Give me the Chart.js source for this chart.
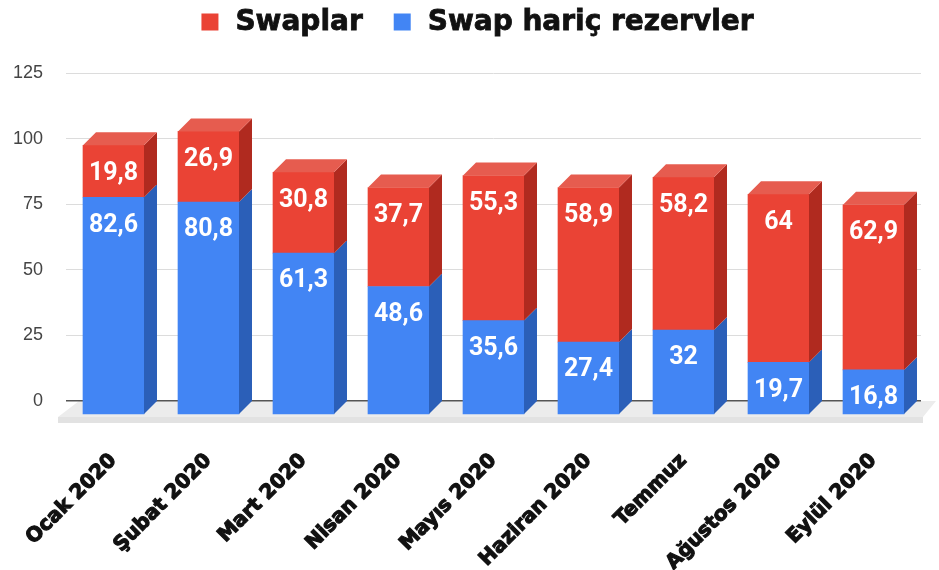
<!DOCTYPE html>
<html>
<head>
<meta charset="utf-8">
<script src="https://cdn.jsdelivr.net/npm/chart.js@4.4.1/dist/chart.umd.min.js"></script>
<style>
  html, body { margin: 0; background: #fff; }
  #wrap { width: 939px; height: 570px; }
</style>
</head>
<body>
<div id="wrap"><canvas id="chart" width="939" height="570"></canvas></div>
<script>
const months = ['Ocak 2020', 'Şubat 2020', 'Mart 2020', 'Nisan 2020', 'Mayıs 2020', 'Haziran 2020', 'Temmuz', 'Ağustos 2020', 'Eylül 2020'];
const swapHaric = [82.6, 80.8, 61.3, 48.6, 35.6, 27.4, 32, 19.7, 16.8];
const swaplar = [19.8, 26.9, 30.8, 37.7, 55.3, 58.9, 58.2, 64, 62.9];
const yTicks = [0, 25, 50, 75, 100, 125];

// 3D depth of the bars (px)
const DX = 13, DY = 13;
const PLOT_H = 328; // chart area height, 401 - 73
const shiftUnits = DY / (PLOT_H / 125);

const sideColors = ['#2b5fb8', '#b02a1f'];
const topColors = ['#5f95f0', '#e65c4f'];

const fmt = v => String(v).replace('.', ',');

// floor under the bars
const floorPlugin = {
  id: 'floor',
  beforeDraw(chart) {
    const { ctx, chartArea: a, scales: { y } } = chart;
    const z = y.getPixelForValue(0);
    ctx.save();
    ctx.fillStyle = '#ececec';
    ctx.beginPath();
    ctx.moveTo(a.left + DX, z);
    ctx.lineTo(a.right + DX + 2, z);
    ctx.lineTo(a.right + 2, z + DY + 3);
    ctx.lineTo(a.left - 8, z + DY + 3);
    ctx.closePath();
    ctx.fill();
    ctx.fillStyle = '#e2e2e2';
    ctx.fillRect(a.left - 8, z + DY + 3, a.right - a.left + 10, 6);
    ctx.restore();
  }
};

// side + top faces and value labels
const depthPlugin = {
  id: 'depth',
  afterDatasetsDraw(chart) {
    const { ctx } = chart;
    const last = chart.data.datasets.length - 1;
    ctx.save();
    chart.data.datasets.forEach((ds, di) => {
      const meta = chart.getDatasetMeta(di);
      meta.data.forEach(bar => {
        const x1 = bar.x - bar.width / 2, x2 = bar.x + bar.width / 2;
        ctx.fillStyle = sideColors[di];
        ctx.beginPath();
        ctx.moveTo(x2, bar.y);
        ctx.lineTo(x2 + DX, bar.y - DY);
        ctx.lineTo(x2 + DX, bar.base - DY);
        ctx.lineTo(x2, bar.base);
        ctx.closePath();
        ctx.fill();
        if (di === last) {
          ctx.fillStyle = topColors[di];
          ctx.beginPath();
          ctx.moveTo(x1, bar.y);
          ctx.lineTo(x1 + DX, bar.y - DY);
          ctx.lineTo(x2 + DX, bar.y - DY);
          ctx.lineTo(x2, bar.y);
          ctx.closePath();
          ctx.fill();
        }
      });
    });
    ctx.fillStyle = '#fff';
    ctx.font = 'bold 25px Roboto, "Liberation Sans", sans-serif';
    ctx.textAlign = 'center';
    ctx.textBaseline = 'middle';
    chart.data.datasets.forEach((ds, di) => {
      chart.getDatasetMeta(di).data.forEach((bar, i) => {
        ctx.fillText(fmt(ds.data[i]), bar.x, bar.y + 28);
      });
    });
    ctx.restore();
  }
};

// legend: Swaplar first, then Swap hariç rezervler
const legendPlugin = {
  id: 'legend3d',
  afterDraw(chart) {
    const { ctx } = chart;
    const order = [1, 0];
    ctx.save();
    ctx.font = 'bold 28px "DejaVu Sans", sans-serif';
    ctx.textBaseline = 'middle';
    const box = 17, gap = 17, between = 31;
    const widths = order.map(i => ctx.measureText(chart.data.datasets[i].label).width);
    const total = widths.reduce((s, w) => s + box + gap + w, 0) + between * (order.length - 1);
    let x = 477.5 - total / 2;
    const cy = 22;
    order.forEach((i, k) => {
      const ds = chart.data.datasets[i];
      ctx.fillStyle = ds.backgroundColor;
      ctx.fillRect(x, cy - box / 2, box, box);
      x += box + gap;
      ctx.fillStyle = '#111';
      ctx.strokeStyle = '#111';
      ctx.lineWidth = 0.8;
      ctx.strokeText(ds.label, x, cy + 1);
      ctx.fillText(ds.label, x, cy + 1);
      x += widths[k] + between;
    });
    ctx.restore();
  }
};

new Chart(document.getElementById('chart'), {
  type: 'bar',
  data: {
    labels: months,
    datasets: [
      {
        label: 'Swap hariç rezervler',
        data: swapHaric,
        backgroundColor: '#4285f4',
        yAxisID: 'yb',
        clip: false
      },
      {
        label: 'Swaplar',
        data: swaplar,
        backgroundColor: '#ea4335',
        yAxisID: 'yb',
        clip: false
      }
    ]
  },
  options: {
    responsive: false,
    animation: false,
    layout: { padding: { top: 73, right: 18, left: 0, bottom: 0 } },
    datasets: { bar: { barThickness: 61, borderWidth: 0 } },
    plugins: {
      legend: { display: false },
      tooltip: { enabled: false }
    },
    scales: {
      x: {
        stacked: true,
        grid: { display: false },
        border: { display: false },
        ticks: {
          autoSkip: false,
          maxRotation: 45,
          minRotation: 45,
          padding: 40,
          color: '#111',
          textStrokeColor: '#111',
          textStrokeWidth: 1.2,
          font: { family: '"DejaVu Sans", sans-serif', weight: 'bold', size: 20 }
        },
        afterFit(s) {
          s.height = 169;
          s.paddingLeft = 0;
          s.paddingRight = 0;
        }
      },
      y: {
        min: 0,
        max: 125,
        afterBuildTicks(s) { s.ticks = yTicks.map(v => ({ value: v })); },
        grid: {
          color: c => (c.tick && c.tick.value === 0 ? '#555' : '#dcdcdc'),
          lineWidth: c => (c.tick && c.tick.value === 0 ? 1.5 : 1),
          drawTicks: false
        },
        border: { display: false },
        ticks: {
          padding: 23,
          color: '#444',
          font: { family: '"Liberation Sans", Arial, sans-serif', size: 18 }
        },
        afterFit(s) { s.width = 66; }
      },
      yb: {
        display: false,
        stacked: true,
        min: shiftUnits,
        max: 125 + shiftUnits
      }
    }
  },
  plugins: [floorPlugin, depthPlugin, legendPlugin]
});
</script>
</body>
</html>
